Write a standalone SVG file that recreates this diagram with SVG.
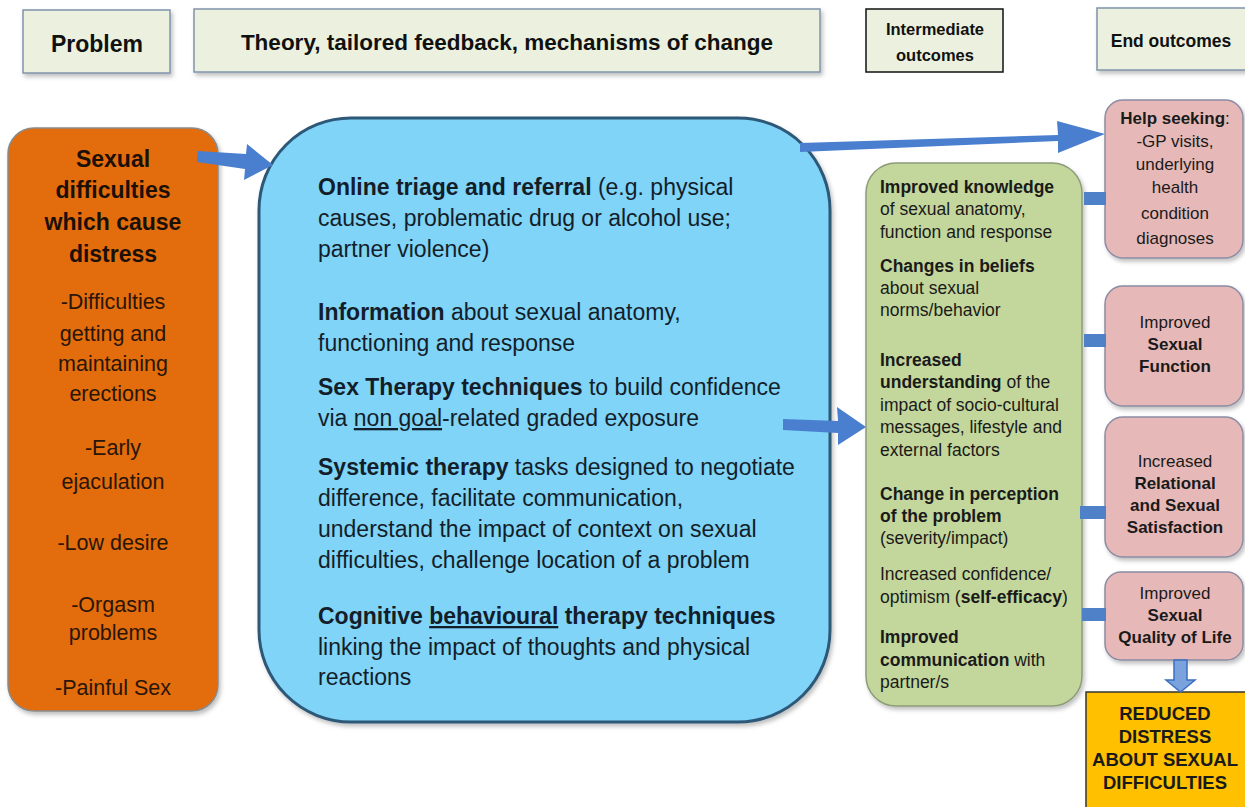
<svg xmlns="http://www.w3.org/2000/svg" width="1245" height="807" viewBox="0 0 1245 807">
<style>
text{font-family:"Liberation Sans",Arial,sans-serif;fill:#111}
.b{font-weight:bold}
.hdr{fill:#ebf1de;stroke:#8093ab;stroke-width:1.5}
.hl{font-weight:bold;text-anchor:middle}
.or{font-size:21.5px;text-anchor:middle;fill:#2a1608}
.oh{font-size:23px;font-weight:bold;text-anchor:middle;fill:#1a1008}
.bl{font-size:23px;fill:#141e2a}
.gr{font-size:17.5px;fill:#1a1a1a}
.pk{fill:#e6b9b8;stroke:#8c8ca4;stroke-width:1.5}
.pt{font-size:17px;text-anchor:middle;fill:#1a1a1a}
.yt{font-size:18.5px;font-weight:bold;text-anchor:middle;fill:#1a1a1a}
.bar{fill:#4f81c8}
</style>
<defs>
<filter id="sh" x="-10%" y="-10%" width="130%" height="130%"><feDropShadow dx="2" dy="3" stdDeviation="2" flood-color="#000" flood-opacity="0.25"/></filter>
</defs>

<g id="hdr-problem">
<rect class="hdr" x="23" y="10" width="147" height="63" filter="url(#sh)"/>
<text class="hl" x="97" y="52" style="font-size:23px">Problem</text>
</g>
<g id="hdr-theory">
<rect class="hdr" x="194" y="9" width="626" height="63" filter="url(#sh)"/>
<text class="hl" x="507" y="50" style="font-size:22.5px">Theory, tailored feedback, mechanisms of change</text>
</g>
<g id="hdr-intermediate">
<rect x="866" y="9" width="137" height="63" fill="#ebf1de" stroke="#111" stroke-width="1.5"/>
<text class="hl" x="935" y="35" style="font-size:16.5px">Intermediate</text>
<text class="hl" x="935" y="61" style="font-size:16.5px">outcomes</text>
</g>
<g id="hdr-end">
<rect class="hdr" x="1097" y="8" width="154" height="62" filter="url(#sh)"/>
<text class="hl" x="1171" y="47" style="font-size:17.5px">End outcomes</text>
</g>

<g id="problem">
<rect x="8" y="128" width="210" height="583" rx="26" fill="#e36c0a" stroke="#8a8a8a" stroke-width="1.5" filter="url(#sh)"/>
<text class="oh" x="113" y="167">Sexual</text>
<text class="oh" x="113" y="198">difficulties</text>
<text class="oh" x="113" y="230">which cause</text>
<text class="oh" x="113" y="262">distress</text>
<text class="or" x="113" y="309">-Difficulties</text>
<text class="or" x="113" y="341">getting and</text>
<text class="or" x="113" y="371">maintaining</text>
<text class="or" x="113" y="401">erections</text>
<text class="or" x="113" y="455">-Early</text>
<text class="or" x="113" y="489">ejaculation</text>
<text class="or" x="113" y="550">-Low desire</text>
<text class="or" x="113" y="612">-Orgasm</text>
<text class="or" x="113" y="640">problems</text>
<text class="or" x="113" y="695">-Painful Sex</text>
</g>

<g id="mechanisms">
<rect x="259" y="118" width="571" height="604" rx="92" fill="#7fd4f7" stroke="#2d5878" stroke-width="3" filter="url(#sh)"/>
<text class="bl" x="318" y="195"><tspan class="b">Online triage and referral</tspan> (e.g. physical</text>
<text class="bl" x="318" y="226">causes, problematic drug or alcohol use;</text>
<text class="bl" x="318" y="257">partner violence)</text>
<text class="bl" x="318" y="320"><tspan class="b">Information</tspan> about sexual anatomy,</text>
<text class="bl" x="318" y="351">functioning and response</text>
<text class="bl" x="318" y="395"><tspan class="b">Sex Therapy techniques</tspan> to build confidence</text>
<text class="bl" x="318" y="426">via <tspan text-decoration="underline">non goal</tspan>-related graded exposure</text>
<text class="bl" x="318" y="475"><tspan class="b">Systemic therapy</tspan> tasks designed to negotiate</text>
<text class="bl" x="318" y="506">difference, facilitate communication,</text>
<text class="bl" x="318" y="537">understand the impact of context on sexual</text>
<text class="bl" x="318" y="568">difficulties, challenge location of a problem</text>
<text class="bl" x="318" y="624"><tspan class="b">Cognitive <tspan text-decoration="underline">behavioural</tspan> therapy techniques</tspan></text>
<text class="bl" x="318" y="655">linking the impact of thoughts and physical</text>
<text class="bl" x="318" y="685">reactions</text>
</g>

<g id="intermediate">
<rect x="866" y="163" width="216" height="543" rx="30" fill="#c3d69b" stroke="#8c9c78" stroke-width="1.5" filter="url(#sh)"/>
<text class="gr b" x="880" y="193">Improved knowledge</text>
<text class="gr" x="880" y="215">of sexual anatomy,</text>
<text class="gr" x="880" y="238">function and response</text>
<text class="gr b" x="880" y="272">Changes in beliefs</text>
<text class="gr" x="880" y="294">about sexual</text>
<text class="gr" x="880" y="316">norms/behavior</text>
<text class="gr b" x="880" y="366">Increased</text>
<text class="gr" x="880" y="388"><tspan class="b">understanding</tspan> of the</text>
<text class="gr" x="880" y="411">impact of socio-cultural</text>
<text class="gr" x="880" y="433">messages, lifestyle and</text>
<text class="gr" x="880" y="456">external factors</text>
<text class="gr b" x="880" y="500">Change in perception</text>
<text class="gr b" x="880" y="522">of the problem</text>
<text class="gr" x="880" y="544">(severity/impact)</text>
<text class="gr" x="880" y="580">Increased confidence/</text>
<text class="gr" x="880" y="603">optimism (<tspan class="b">self-efficacy</tspan>)</text>
<text class="gr b" x="880" y="643">Improved</text>
<text class="gr" x="880" y="666"><tspan class="b">communication</tspan> with</text>
<text class="gr" x="880" y="688">partner/s</text>
</g>

<g id="help-seeking">
<rect class="pk" x="1105" y="100" width="138" height="158" rx="18" filter="url(#sh)"/>
<text class="pt" x="1175" y="124"><tspan class="b">Help seeking</tspan>:</text>
<text class="pt" x="1175" y="147">-GP visits,</text>
<text class="pt" x="1175" y="170">underlying</text>
<text class="pt" x="1175" y="193">health</text>
<text class="pt" x="1175" y="219">condition</text>
<text class="pt" x="1175" y="244">diagnoses</text>
</g>
<g id="sexual-function">
<rect class="pk" x="1105" y="286" width="138" height="120" rx="18" filter="url(#sh)"/>
<text class="pt" x="1175" y="328">Improved</text>
<text class="pt b" x="1175" y="350">Sexual</text>
<text class="pt b" x="1175" y="372">Function</text>
</g>
<g id="satisfaction">
<rect class="pk" x="1105" y="417" width="138" height="140" rx="18" filter="url(#sh)"/>
<text class="pt" x="1175" y="467">Increased</text>
<text class="pt b" x="1175" y="489">Relational</text>
<text class="pt b" x="1175" y="511">and Sexual</text>
<text class="pt b" x="1175" y="533">Satisfaction</text>
</g>
<g id="quality-of-life">
<rect class="pk" x="1105" y="572" width="138" height="88" rx="16" filter="url(#sh)"/>
<text class="pt" x="1175" y="599">Improved</text>
<text class="pt b" x="1175" y="621">Sexual</text>
<text class="pt b" x="1175" y="643">Quality of Life</text>
</g>
<g id="reduced-distress">
<rect x="1086" y="692" width="165" height="120" fill="#ffc000" stroke="#333" stroke-width="1.5"/>
<text class="yt" x="1165" y="720">REDUCED</text>
<text class="yt" x="1165" y="743">DISTRESS</text>
<text class="yt" x="1165" y="766">ABOUT SEXUAL</text>
<text class="yt" x="1165" y="789">DIFFICULTIES</text>
</g>

<g id="connectors">
<polygon fill="#4a7fcf" points="198,151 246,154 247,144 273,165 244,180 245,169 197,162"/>
<polygon fill="#4a7fcf" points="800,143 1058,135 1057,121 1105,134 1058,153 1058,141 800,152"/>
<polygon fill="#4a7fcf" points="783,419 838,421 837,407 866,427 838,445 838,433 783,430"/>
<rect class="bar" x="1084" y="192" width="22" height="13"/>
<rect class="bar" x="1084" y="334" width="22" height="13"/>
<rect class="bar" x="1080" y="506" width="26" height="13"/>
<rect class="bar" x="1082" y="608" width="24" height="13"/>
<polygon fill="#7aa3dd" stroke="#3c6fbf" stroke-width="1.5" points="1174,660 1187,660 1187,680 1195,680 1180.5,692 1166,680 1174,680"/>
</g>
</svg>
